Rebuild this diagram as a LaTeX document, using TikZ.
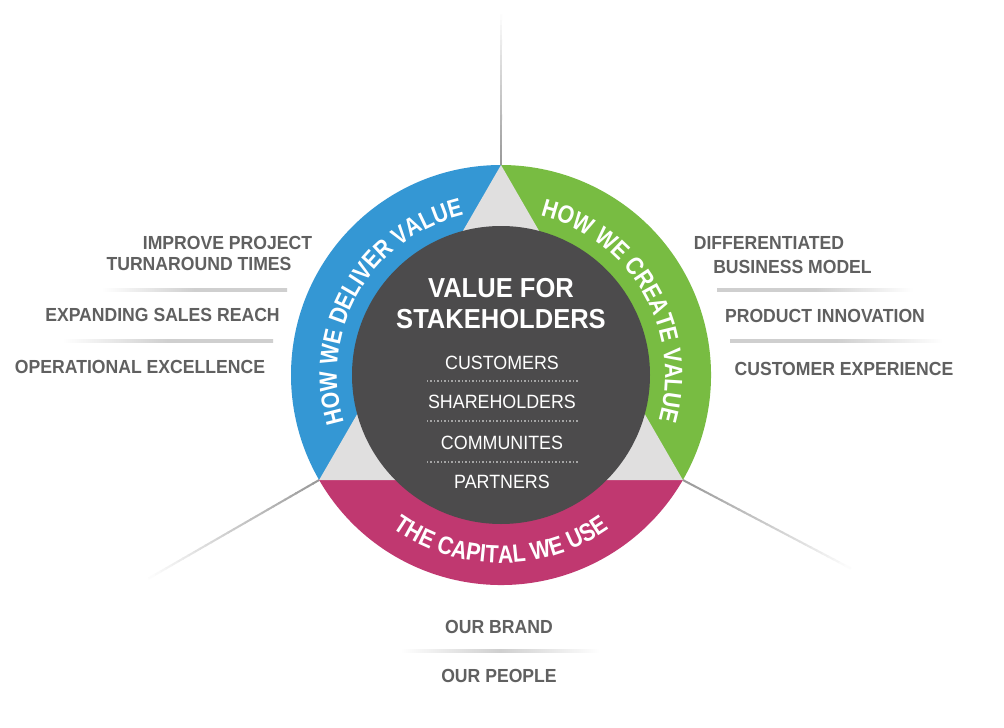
\documentclass[tikz,border=0pt]{standalone}
\usepackage{fontspec}
\setmainfont{Liberation Sans}[FakeStretch=0.93]
\newfontfamily\ringfam{Liberation Sans}[FakeStretch=0.85]
\usetikzlibrary{calc,decorations.text}
\definecolor{cblue}{HTML}{3497D4}
\definecolor{cgreen}{HTML}{78BC42}
\definecolor{cmag}{HTML}{C03870}
\definecolor{ctri}{HTML}{E0DFDF}
\definecolor{cdark}{HTML}{4C4B4C}
\definecolor{ctext}{HTML}{606060}
\definecolor{csep}{HTML}{CFCFCF}
\definecolor{cline}{HTML}{999999}
\newcommand\ringfont{\ringfam\fontsize{18.8}{21}\selectfont\bfseries}
\begin{document}
\begin{tikzpicture}[x=0.75pt,y=0.75pt,
  lab/.style={font=\fontsize{14.2}{17}\selectfont\bfseries, text=ctext, inner sep=0pt},
  ttl/.style={font=\fontsize{20.6}{24}\selectfont\bfseries, text=white, inner sep=0pt},
  itm/.style={font=\fontsize{14.4}{17}\selectfont, text=white, inner sep=0pt},
  dots/.style={draw=white!50!cdark, line width=0.9pt, dash pattern=on 1.1pt off 1.5pt},
  ring/.style={decorate, decoration={text along path, text align=center, text color=white, text={|\ringfont|#1}}},
  sepL/.style={left color=white, right color=csep, middle color=csep},
  sepR/.style={left color=csep, right color=white, middle color=csep},
  sepB/.style={left color=white, right color=white, middle color=csep}
]
\useasboundingbox (0,0) rectangle (1004,-728);
\fill[white] (0,0) rectangle (1004,-728);
\coordinate (c) at (501,-375);
\coordinate (vT) at ($(c)+(90:210)$);
\coordinate (vL) at ($(c)+(210:210)$);
\coordinate (vR) at ($(c)+(-30:210)$);
\coordinate (eT) at (501,-15);
\coordinate (eL) at ($(c)+(210:406)$);
\coordinate (eR) at (850,-568);
% fading rays
\foreach \v/\e in {vT/eT, vL/eL, vR/eR}{
  \foreach \i in {0,...,29}{
    \pgfmathtruncatemacro\p{100-\i*100/30}
    \pgfmathsetmacro\a{\i/30}
    \pgfmathsetmacro\b{(\i+1.15)/30}
    \draw[cline!\p!white, line width=1.5pt] ($(\v)!\a!(\e)$) -- ($(\v)!\b!(\e)$);
  }
}
% sectors
\fill[cblue] (c) -- (vT) arc[start angle=90, end angle=210, radius=210] -- cycle;
\fill[cgreen] (c) -- (vR) arc[start angle=-30, end angle=90, radius=210] -- cycle;
\fill[cmag] (c) -- (vL) arc[start angle=210, end angle=330, radius=210] -- cycle;
\fill[ctri] (vT) -- (vL) -- (vR) -- cycle;
\fill[cdark] (c) circle[radius=149];
% ring texts
\path[ring={HOW WE DELIVER VALUE}] ($(c)+(210:164)$) arc[start angle=210, end angle=90, radius=164];
\path[ring={HOW WE CREATE VALUE}] ($(c)+(90:164)$) arc[start angle=90, end angle=-30, radius=164];
\path[ring={THE CAPITAL WE USE}] ($(c)+(210:188)$) arc[start angle=210, end angle=330, radius=188];
% centre
\node[ttl] (t1) at (501,-288) {VALUE FOR};
\node[ttl] (t2) at (501,-319) {STAKEHOLDERS};
\node[itm] (s1) at (502,-363) {CUSTOMERS};
\node[itm] (s2) at (502,-402) {SHAREHOLDERS};
\node[itm] (s3) at (502,-443) {COMMUNITES};
\node[itm] (s4) at (502,-482) {PARTNERS};
\draw[dots] (427,-381) -- (578,-381);
\draw[dots] (427,-421) -- (578,-421);
\draw[dots] (427,-462) -- (578,-462);
% left labels
\node[lab] (l1a) at (227.5,-243) {IMPROVE PROJECT};
\node[lab] (l1b) at (199,-264) {TURNAROUND TIMES};
\node[lab] (l2) at (162.5,-315) {EXPANDING SALES REACH};
\node[lab] (l3) at (140,-367) {OPERATIONAL EXCELLENCE};
\shade[sepL] (102,-288.8) rectangle (287,-291.2);
\shade[sepL] (62,-339.8) rectangle (273,-342.2);
% right labels
\node[lab] (r1a) at (769,-243) {DIFFERENTIATED};
\node[lab] (r1b) at (792.5,-267) {BUSINESS MODEL};
\node[lab] (r2) at (825,-316) {PRODUCT INNOVATION};
\node[lab] (r3) at (844,-369) {CUSTOMER EXPERIENCE};
\shade[sepR] (717,-288.8) rectangle (913,-291.2);
\shade[sepR] (730,-339.8) rectangle (943,-342.2);
% bottom labels
\node[lab] (b1) at (499,-627) {OUR BRAND};
\node[lab] (b2) at (499,-676) {OUR PEOPLE};
\shade[sepB] (400,-649.8) rectangle (600,-652.2);
\end{tikzpicture}
\end{document}
